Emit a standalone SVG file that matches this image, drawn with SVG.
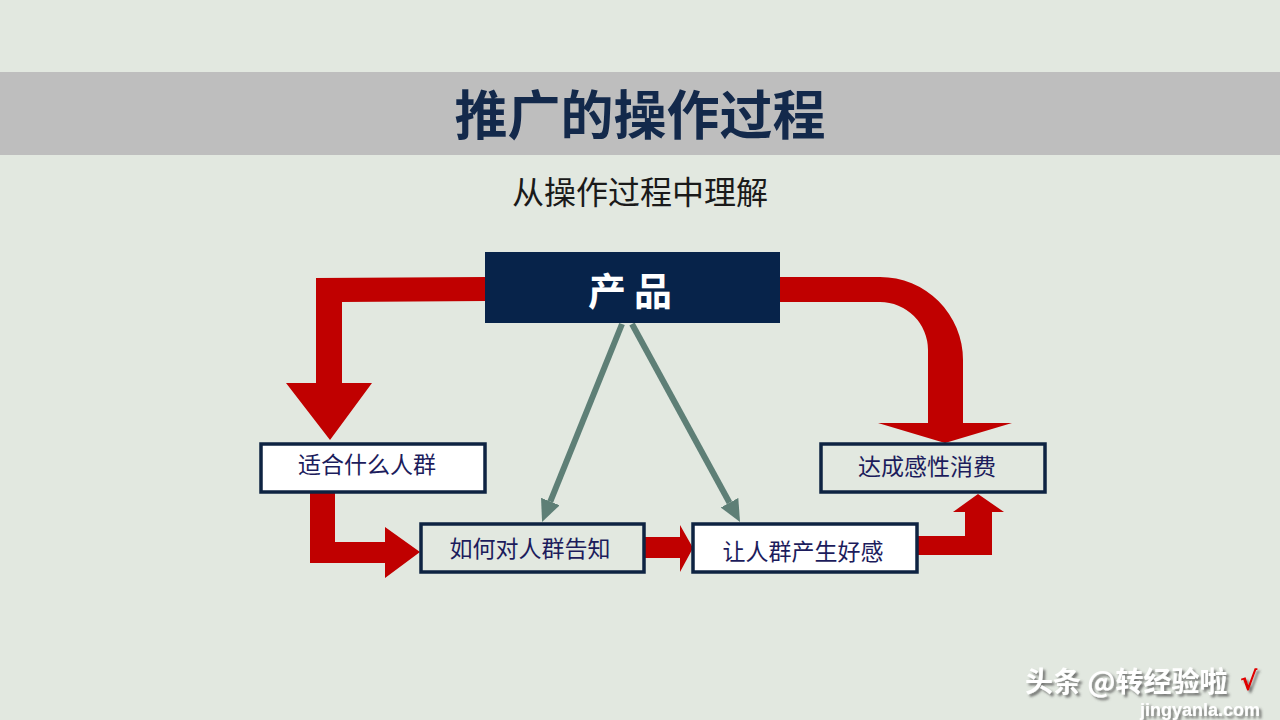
<svg xmlns="http://www.w3.org/2000/svg" width="1280" height="720" viewBox="0 0 1280 720">
<defs>
<style>
.bg{fill:#E2E8E0}
.band{fill:#BEBEBE}
.title{font-family:"Noto Sans CJK SC","Noto Sans",sans-serif;font-weight:700;font-size:53px;fill:#13294B;text-anchor:middle}
.sub{font-family:"Noto Sans CJK SC","Noto Sans",sans-serif;font-size:32px;fill:#1A1A1A;text-anchor:middle}
.red{fill:#C00000}
.box{stroke:#0E2342;stroke-width:3.5}
.white{fill:#FFFFFF}
.light{fill:#E2E8E0}
.lbl{font-family:"Noto Sans CJK SC","Noto Sans",sans-serif;font-size:23px;fill:#1C1C5C;text-anchor:middle}
.gline{stroke:#5E7F76;stroke-width:6;fill:none}
.wm{font-family:"Noto Sans CJK SC","Noto Sans",sans-serif;font-weight:700;font-size:28px;fill:#FFFFFF}
</style>
<filter id="sh" x="-10%" y="-30%" width="120%" height="160%">
<feDropShadow dx="2.5" dy="2.5" stdDeviation="0.8" flood-color="#444444" flood-opacity="0.7"/>
</filter>
<marker id="ga" markerUnits="userSpaceOnUse" markerWidth="24" markerHeight="22" refX="0" refY="10" orient="auto">
<path d="M0,0 L22,10 L0,20 Z" fill="#5E7F76"/>
</marker>
</defs>
<rect class="bg" x="0" y="0" width="1280" height="720"/>
<rect class="band" x="0" y="72" width="1280" height="83"/>
<text class="title" x="640" y="135">推广的操作过程</text>
<text class="sub" x="640" y="204">从操作过程中理解</text>

<g id="connectors">
<path class="red" d="M486,277 L316,278 L316,383 L286,383 L330,440 L372,383 L342,383 L342,302 L486,301 Z"/>
<path class="red" d="M779,277 L880,277 A83,83 0 0 1 963,360 L963,423 L1012,423 L945,443 L878,423 L928,423 L928,350 A48,48 0 0 0 880,302 L779,302 Z"/>
<path class="red" d="M310,492 L310,563 L385,563 L385,578 L420,552 L385,527 L385,542 L335,542 L335,492 Z"/>
<path class="red" d="M645,537 L680,537 L680,525 L693,548 L680,572 L680,558 L645,558 Z"/>
<path class="red" d="M917,536 L965,536 L965,512 L953,512 L978,494 L1004,512 L992,512 L992,555 L917,555 Z"/>
<line class="gline" x1="622" y1="324" x2="550.3" y2="501.6" marker-end="url(#ga)"/>
<line class="gline" x1="632" y1="324" x2="729.5" y2="502.7" marker-end="url(#ga)"/>
</g>

<g id="node-product">
<rect x="485" y="252" width="295" height="71" fill="#07234A"/>
<text x="634" y="305" font-family="'Noto Sans CJK SC','Noto Sans',sans-serif" font-weight="700" font-size="38" fill="#FFFFFF" text-anchor="middle" letter-spacing="8">产品</text>
</g>

<g id="node-fit">
<rect class="box white" x="261" y="444" width="224" height="48"/>
<text class="lbl" x="367" y="473">适合什么人群</text>
</g>

<g id="node-inform">
<rect class="box light" x="421" y="524" width="223" height="48"/>
<text class="lbl" x="530" y="557">如何对人群告知</text>
</g>

<g id="node-favor">
<rect class="box white" x="693" y="524" width="224" height="48"/>
<text class="lbl" x="803" y="560">让人群产生好感</text>
</g>

<g id="node-consume">
<rect class="box light" x="821" y="444" width="224" height="48"/>
<text class="lbl" x="927" y="475">达成感性消费</text>
</g>

<g id="watermark" filter="url(#sh)">
<text class="wm" x="1025" y="692">头条 @转经验啦</text>
<text x="1240" y="690" font-family="'DejaVu Sans',sans-serif" font-weight="700" font-size="26" fill="#E00000">√</text>
<text x="1140" y="716" font-family="'Liberation Sans',sans-serif" font-weight="700" font-size="18" fill="#FFFFFF">jingyanla.com</text>
</g>
</svg>
